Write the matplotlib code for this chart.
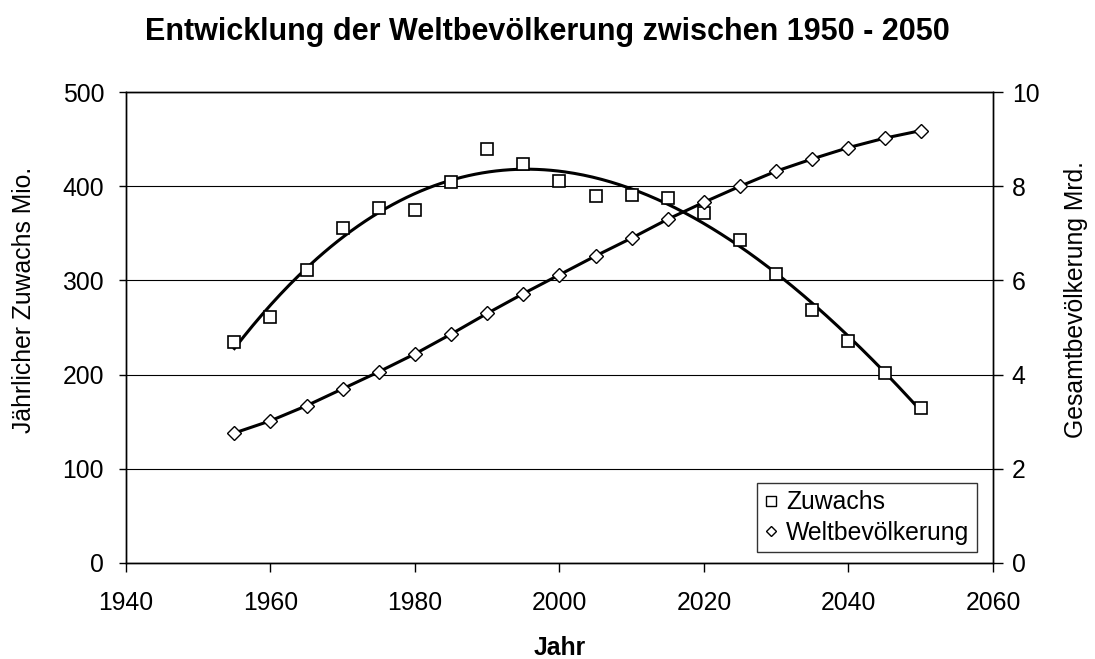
import numpy as np
import matplotlib
matplotlib.use("Agg")
import matplotlib.pyplot as plt
from matplotlib.lines import Line2D

plt.rcParams['font.family'] = ['Liberation Sans', 'DejaVu Sans']

years = [1955, 1960, 1965, 1970, 1975, 1980, 1985, 1990, 1995, 2000,
         2005, 2010, 2015, 2020, 2025, 2030, 2035, 2040, 2045, 2050]
zuwachs = [235, 261, 311, 356, 377, 375, 404, 440, 424, 405,
           390, 391, 388, 372, 343, 307, 269, 236, 202, 165]
welt = [2.76, 3.02, 3.34, 3.70, 4.06, 4.44, 4.86, 5.30, 5.72, 6.12,
        6.52, 6.90, 7.30, 7.66, 8.00, 8.32, 8.58, 8.82, 9.02, 9.18]

W, H = 1095, 659
fig = plt.figure(figsize=(W / 100, H / 100), dpi=100)
L, R, T, B = 126, 993, 92, 563
ax = fig.add_axes([L / W, 1 - B / H, (R - L) / W, (B - T) / H])
ax2 = ax.twinx()

x = np.array(years, dtype=float)
coef = np.polyfit(x - 2000, np.array(zuwachs, dtype=float), 3)
xs = np.linspace(x[0], x[-1], 300)
ax.plot(xs, np.polyval(coef, xs - 2000), color='black', lw=2.2, zorder=3)
ax.plot(years, zuwachs, ls='none', marker='s', ms=8.5, mfc='white', mec='black',
        mew=1.2, zorder=4)

ax2.plot(years, welt, color='black', lw=2.2, marker='D', ms=6.8, mfc='white',
         mec='black', mew=1.0, zorder=4)

ax.set_xlim(1940, 2060)
ax.set_ylim(0, 500)
ax2.set_ylim(0, 10)
ax.set_xticks(range(1940, 2061, 20))
ax.set_yticks(range(0, 501, 100))
ax2.set_yticks(range(0, 11, 2))
ax.yaxis.grid(True, color='black', lw=0.8)
ax.set_axisbelow(True)

fs = 17.8
ax.tick_params(axis='x', labelsize=fs, direction='out', length=6.5, width=1, pad=14)
ax.tick_params(axis='y', labelsize=fs, direction='out', length=5, width=1, pad=10.8)
ax2.tick_params(axis='y', labelsize=fs, direction='out', length=7, width=1, pad=6.5)
for a in (ax, ax2):
    for s in a.spines.values():
        s.set_linewidth(1.0)
        s.set_color('black')

fig.text(0.5, 1 - 40 / H, 'Entwicklung der Weltbevölkerung zwischen 1950 - 2050',
         fontsize=22, fontweight='bold', ha='center', va='baseline')
fig.text(560 / W, 1 - 655 / H, 'Jahr', fontsize=fs, fontweight='bold',
         ha='center', va='baseline')
fig.text(24 / W, 1 - 300 / H, 'Jährlicher Zuwachs Mio.', fontsize=fs,
         rotation=90, ha='center', va='center')
fig.text(1076 / W, 1 - 300 / H, 'Gesamtbevölkerung Mrd.', fontsize=fs,
         rotation=90, ha='center', va='center')

handles = [Line2D([], [], ls='none', marker='s', ms=7, mfc='white', mec='black', mew=1.0),
           Line2D([], [], ls='none', marker='D', ms=5, mfc='white', mec='black', mew=1.0)]
leg = ax2.legend(handles, ['Zuwachs', 'Weltbevölkerung'], loc='lower right',
                 bbox_to_anchor=((977 - L) / (R - L), (B - 552) / (B - T)),
                 fontsize=fs, frameon=True,
                 fancybox=False, edgecolor='black', handlelength=0.6,
                 handletextpad=0.3, borderpad=0.3, labelspacing=0.25,
                 borderaxespad=0.0)
leg.get_frame().set_linewidth(1.0)

fig.savefig('out.png', dpi=100)
